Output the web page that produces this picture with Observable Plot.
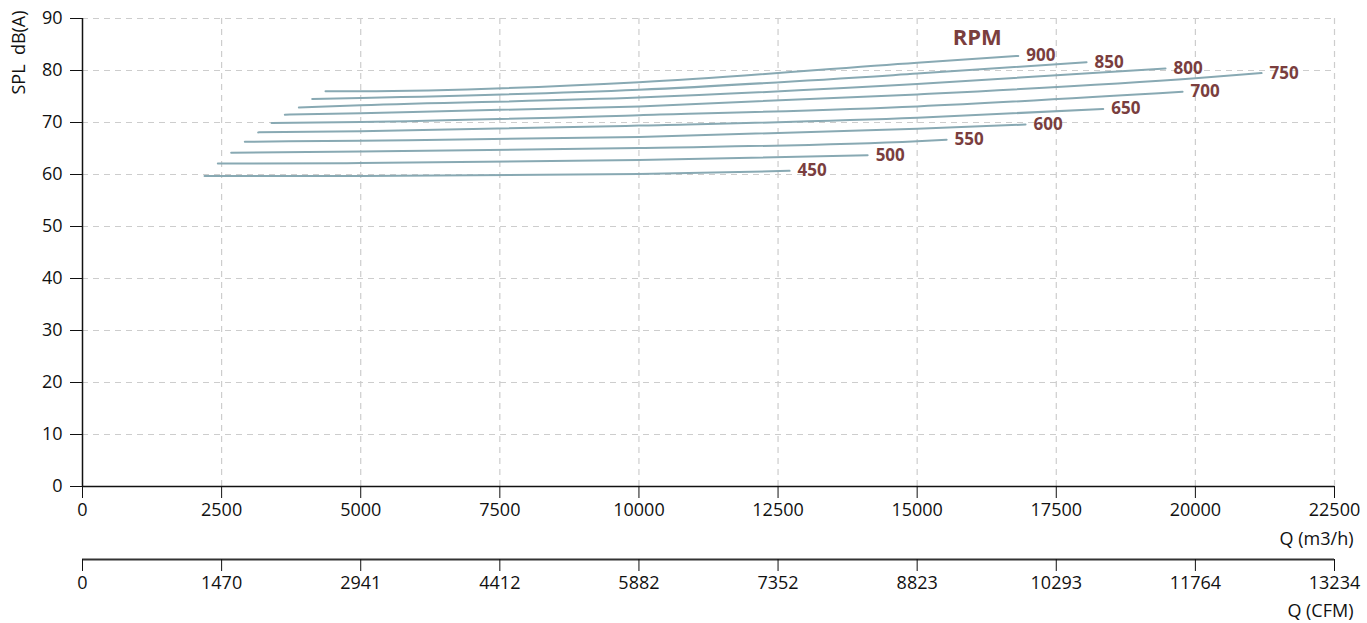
<!DOCTYPE html>
<html>
<head>
<meta charset="utf-8">
<script src="https://cdn.jsdelivr.net/npm/d3@7"></script>
<script src="https://cdn.jsdelivr.net/npm/@observablehq/plot@0.6"></script>
<style>
  html, body { margin: 0; padding: 0; background: #fff; }
  #chart svg { display: block; font-family: "Open Sans", sans-serif; }
</style>
</head>
<body>
<div id="chart"></div>
<script>
// RPM series and their points (Q in m3/h, SPL in dB(A))
const rpms = [450, 500, 550, 600, 650, 700, 750, 800, 850, 900];
const qPoints = [
  [2193, 5000, 10000, 12707],
  [2432, 5000, 10000, 14110],
  [2672, 5000, 10000, 15000, 15529],
  [2917, 5000, 10000, 15000, 16948],
  [3157, 5000, 10000, 15000, 18344],
  [3397, 5000, 10000, 15000, 19770],
  [3636, 5000, 10000, 15000, 20000, 21189],
  [3888, 5000, 10000, 15000, 19463],
  [4128, 5000, 10000, 15000, 18044],
  [4367, 5000, 10000, 15000, 16817]
];
const splPoints = [
  [59.7, 59.7, 60.1, 60.7],
  [62.1, 62.2, 62.8, 63.7],
  [64.2, 64.4, 65.1, 66.4, 66.7],
  [66.3, 66.5, 67.2, 68.8, 69.6],
  [68.1, 68.3, 69.4, 70.9, 72.6],
  [69.9, 70.1, 71.4, 73.1, 75.9],
  [71.5, 71.8, 73.1, 75.4, 78.5, 79.5],
  [72.9, 73.3, 74.8, 77.4, 80.4],
  [74.5, 74.7, 76.3, 79.4, 81.6],
  [76.0, 76.0, 77.75, 81.5, 82.8]
];
const xTicks = [0, 2500, 5000, 7500, 10000, 12500, 15000, 17500, 20000, 22500];
const cfmLabels = ["0", "1470", "2941", "4412", "5882", "7352", "8823", "10293", "11764", "13234"];
const yTicks = [0, 10, 20, 30, 40, 50, 60, 70, 80, 90];
const seriesTitle = "RPM";
const xTitle = "Q (m3/h)";
const x2Title = "Q (CFM)";
const yTitle = "SPL\u00a0\u00a0dB(A)";

// Build tables
const points = rpms.flatMap((r, i) => qPoints[i].map((q, j) => ({rpm: r, q, spl: splPoints[i][j]})));
const ends = rpms.map((r, i) => ({rpm: r, q: qPoints[i][qPoints[i].length - 1], spl: splPoints[i][splPoints[i].length - 1]}));
const topEnd = ends[ends.length - 1];

const lineColor = "#88a9b3";
const labelColor = "#7a3e3e";
const gridColor = "#cdcdcd";
const axisColor = "#111";
const fs = 18;

const chart = Plot.plot({
  width: 1367,
  height: 623,
  marginLeft: 82,
  marginRight: 33,
  marginTop: 18,
  marginBottom: 137,
  style: {fontFamily: "'Open Sans', sans-serif", fontSize: fs + "px", color: axisColor, background: "#fff", overflow: "visible"},
  x: {domain: [0, 22500]},
  y: {domain: [0, 90]},
  marks: [
    Plot.gridX(xTicks.filter(d => d > 0), {stroke: gridColor, strokeOpacity: 1, strokeWidth: 1.2, strokeDasharray: "6,5"}),
    Plot.gridY(yTicks.filter(d => d > 0), {stroke: gridColor, strokeOpacity: 1, strokeWidth: 1.2, strokeDasharray: "6,5"}),
    Plot.line(points, {x: "q", y: "spl", z: "rpm", stroke: lineColor, strokeWidth: 2, curve: "monotone-x"}),
    Plot.text(ends, {x: "q", y: "spl", text: d => String(d.rpm), dx: 8, textAnchor: "start", fill: labelColor, fontWeight: "bold", fontSize: 17}),
    Plot.text([topEnd], {x: "q", y: "spl", text: () => seriesTitle, dx: -41, dy: -18, textAnchor: "middle", fill: labelColor, fontWeight: "bold", fontSize: 22}),
    Plot.ruleX([0], {y1: 0, y2: 90, stroke: axisColor, strokeWidth: 1.5}),
    Plot.ruleY([0], {stroke: axisColor, strokeWidth: 1.5}),
    Plot.axisY(yTicks, {tickSize: 12, tickPadding: 8, label: null, stroke: axisColor, fill: axisColor, fontSize: fs, tickFormat: d => String(d)}),
    Plot.axisX(xTicks, {tickSize: 12, tickPadding: 5, label: null, stroke: axisColor, fill: axisColor, fontSize: fs, tickFormat: d => String(d)}),
    Plot.ruleY([0], {dy: 73, stroke: "#333", strokeWidth: 2}),
    Plot.axisX(xTicks, {dy: 73, tickSize: 12, tickPadding: 5, label: null, stroke: axisColor, fill: axisColor, fontSize: fs,
      tickFormat: d => cfmLabels[xTicks.indexOf(d)]}),
    Plot.text([xTitle], {frameAnchor: "bottom-right", text: d => d, dx: 19, dy: 53, textAnchor: "end", lineAnchor: "middle", fill: axisColor, fontSize: fs}),
    Plot.text([x2Title], {frameAnchor: "bottom-right", text: d => d, dx: 19, dy: 125, textAnchor: "end", lineAnchor: "middle", fill: axisColor, fontSize: fs}),
    Plot.text([yTitle], {frameAnchor: "top-left", text: d => d, dx: -63, dy: 34, rotate: -90, textAnchor: "middle", lineAnchor: "middle", fill: axisColor, fontSize: 18})
  ]
});
document.getElementById("chart").appendChild(chart);
</script>
</body>
</html>
